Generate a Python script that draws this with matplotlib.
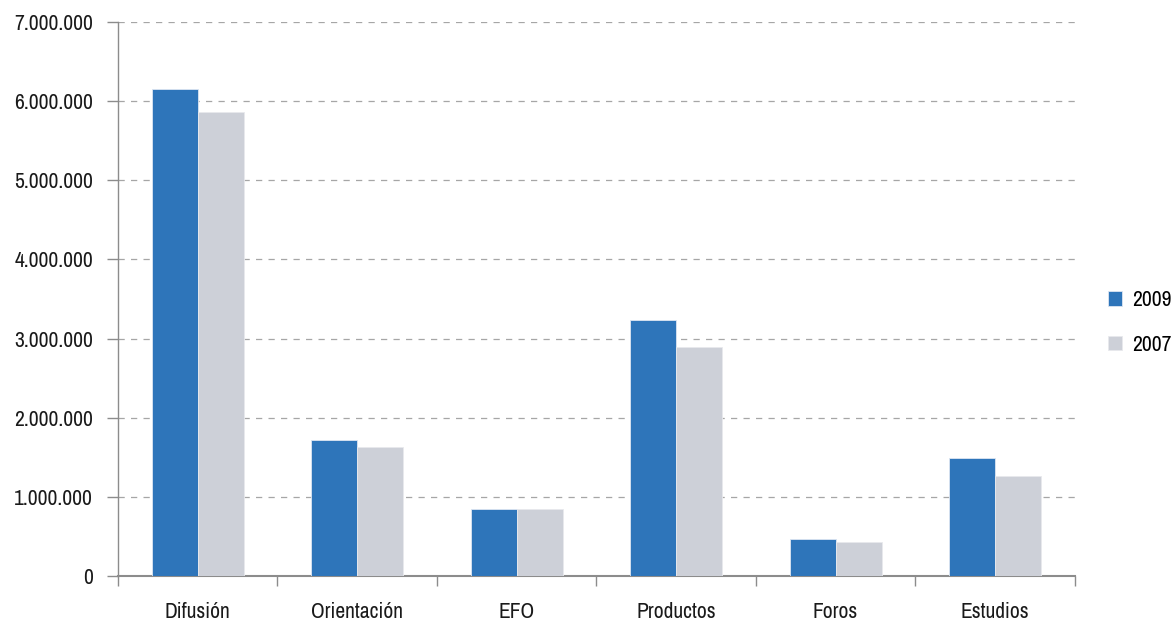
import numpy as np
import matplotlib
matplotlib.use("Agg")
import matplotlib.pyplot as plt
from matplotlib import font_manager
from matplotlib.ticker import FuncFormatter, FixedLocator

# ------------------------------------------------------------
# Data
# ------------------------------------------------------------

categories = ["Difusión", "Orientación", "EFO", "Productos", "Foros", "Estudios"]

values_2009 = [6155000, 1718000, 847000, 3235000, 468000, 1490000]

values_2007 = [5863000, 1630000, 847000, 2894000, 430000, 1264000]

series_labels = ["2009", "2007"]

# ------------------------------------------------------------
# Pick a condensed font if one is installed
# ------------------------------------------------------------

installed = sorted({f.name for f in font_manager.fontManager.ttflist})
narrow = [n for n in installed if "Narrow" in n or "Condensed" in n]

if narrow:
    FONT = narrow[0]
    FS = 15.5
else:
    FONT = "Liberation Sans"
    FS = 13.5

plt.rcParams["font.family"] = [FONT, "DejaVu Sans"]

BLUE = "#2E75BA"
GRAY = "#CDD0D8"
AXIS = "#8C8C8C"
TEXT = "#1A1A1A"

# ------------------------------------------------------------
# Figure
# ------------------------------------------------------------

fig = plt.figure(figsize=(11.74, 6.22), dpi=100)
ax = fig.add_axes([0.1005, 0.074, 0.815, 0.8906])

x = np.arange(len(categories))
width = 0.288

ax.bar(x - width / 2, values_2009, width, color=BLUE, label=series_labels[0],
       edgecolor="#DDE6F2", linewidth=0.6, zorder=3)
ax.bar(x + width / 2, values_2007, width, color=GRAY, label=series_labels[1],
       edgecolor="#E8E9ED", linewidth=0.6, zorder=3)

ax.set_xlim(-0.5, len(categories) - 0.5)
ax.set_ylim(0, 7000000)

ax.yaxis.set_major_locator(FixedLocator(np.arange(0, 7000001, 1000000)))
ax.yaxis.set_major_formatter(FuncFormatter(lambda v, p: f"{int(v):,}".replace(",", ".")))

ax.grid(axis="y", color="#A6A6A6", linestyle=(0, (5, 5)), linewidth=0.9, zorder=0)

# category labels centred, ticks at boundaries
ax.set_xticks(x)
ax.set_xticklabels(categories)
ax.tick_params(axis="x", length=0, pad=19, labelsize=FS, labelcolor=TEXT)
ax.set_xticks(np.arange(-0.5, len(categories) + 0.5, 1), minor=True)
ax.tick_params(axis="x", which="minor", length=7, color=AXIS, width=1)

ax.tick_params(axis="y", length=8, color=AXIS, width=1, pad=10,
               labelsize=FS, labelcolor=TEXT)

for side in ["top", "right"]:
    ax.spines[side].set_visible(False)

ax.spines["left"].set_color(AXIS)
ax.spines["bottom"].set_color(AXIS)
ax.spines["left"].set_linewidth(1)
ax.spines["bottom"].set_linewidth(1.5)

ax.legend(loc="center left", bbox_to_anchor=(1.035, 0.458), frameon=False,
          fontsize=FS, handlelength=0.65, handleheight=0.65, handletextpad=0.45,
          labelspacing=1.15, borderpad=0, borderaxespad=0)

fig.savefig("out.png", dpi=100)
